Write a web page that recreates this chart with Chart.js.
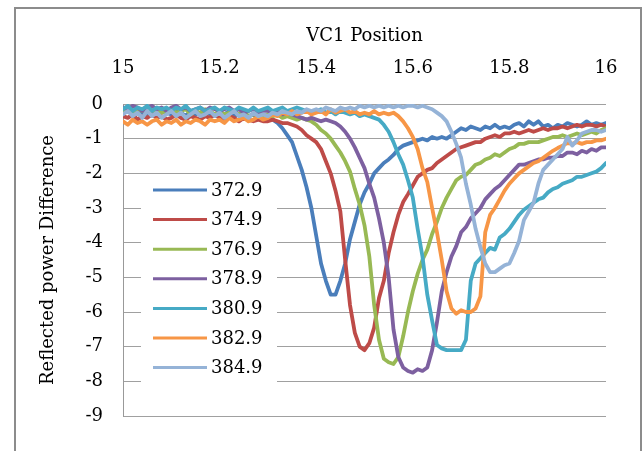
<!DOCTYPE html>
<html>
<head>
<meta charset="utf-8">
<script src="https://cdn.jsdelivr.net/npm/chart.js@4/dist/chart.umd.min.js"></script>
<style>
  body { margin: 0; background: #fff; }
  canvas { display: block; }
</style>
</head>
<body>
<canvas id="chart" width="643" height="451"></canvas>
<script>
// VC1 position (x axis), one sample every 0.01
const positions = [
  15.00, 15.01, 15.02, 15.03, 15.04, 15.05, 15.06, 15.07, 15.08, 15.09,
  15.10, 15.11, 15.12, 15.13, 15.14, 15.15, 15.16, 15.17, 15.18, 15.19,
  15.20, 15.21, 15.22, 15.23, 15.24, 15.25, 15.26, 15.27, 15.28, 15.29,
  15.30, 15.31, 15.32, 15.33, 15.34, 15.35, 15.36, 15.37, 15.38, 15.39,
  15.40, 15.41, 15.42, 15.43, 15.44, 15.45, 15.46, 15.47, 15.48, 15.49,
  15.50, 15.51, 15.52, 15.53, 15.54, 15.55, 15.56, 15.57, 15.58, 15.59,
  15.60, 15.61, 15.62, 15.63, 15.64, 15.65, 15.66, 15.67, 15.68, 15.69,
  15.70, 15.71, 15.72, 15.73, 15.74, 15.75, 15.76, 15.77, 15.78, 15.79,
  15.80, 15.81, 15.82, 15.83, 15.84, 15.85, 15.86, 15.87, 15.88, 15.89,
  15.90, 15.91, 15.92, 15.93, 15.94, 15.95, 15.96, 15.97, 15.98, 15.99, 16.00
];

const seriesNames = ['372.9', '374.9', '376.9', '378.9', '380.9', '382.9', '384.9'];

const s3729 = [
  -0.25, -0.2, -0.3, -0.15, -0.25, -0.35, -0.2, -0.3, -0.2, -0.25,
  -0.3, -0.2, -0.25, -0.35, -0.2, -0.3, -0.25, -0.2, -0.3, -0.35,
  -0.25, -0.3, -0.2, -0.35, -0.3, -0.25, -0.35, -0.3, -0.4, -0.35,
  -0.4, -0.45, -0.55, -0.7, -0.9, -1.1, -1.5, -1.9, -2.4, -3.0,
  -3.8, -4.6, -5.1, -5.5, -5.5, -5.1, -4.6, -3.9, -3.4, -2.9,
  -2.55, -2.3, -2.0, -1.85, -1.7, -1.6, -1.47, -1.3, -1.2, -1.15,
  -1.1, -1.05, -1.0, -1.05, -0.95, -1.0, -0.95, -1.0, -0.9, -0.8,
  -0.7, -0.75, -0.65, -0.7, -0.75, -0.65, -0.7, -0.6, -0.7, -0.65,
  -0.7, -0.6, -0.55, -0.65, -0.5, -0.6, -0.5, -0.65, -0.6, -0.7,
  -0.6, -0.65, -0.55, -0.6, -0.65, -0.6, -0.5, -0.6, -0.55, -0.6, -0.55
];
const s3749 = [
  -0.35, -0.4, -0.3, -0.45, -0.35, -0.4, -0.3, -0.4, -0.35, -0.45,
  -0.4, -0.3, -0.4, -0.45, -0.35, -0.4, -0.45, -0.35, -0.4, -0.3,
  -0.4, -0.45, -0.35, -0.4, -0.5, -0.4, -0.45, -0.5, -0.45, -0.5,
  -0.5, -0.45, -0.5, -0.55, -0.55, -0.6, -0.65, -0.75, -0.9, -1.0,
  -1.1, -1.3, -1.65, -2.0, -2.5, -3.1, -4.5, -5.8, -6.6, -7.0,
  -7.1, -6.9, -6.45, -5.6, -5.1, -4.3, -3.7, -3.2, -2.83, -2.6,
  -2.35, -2.1, -2.0, -1.9, -1.85, -1.7, -1.6, -1.5, -1.4, -1.3,
  -1.25, -1.2, -1.15, -1.1, -1.1, -1.0, -0.95, -0.9, -0.95, -0.85,
  -0.85, -0.8, -0.85, -0.8, -0.75, -0.8, -0.75, -0.7, -0.75, -0.7,
  -0.7, -0.65, -0.7, -0.65, -0.6, -0.65, -0.6, -0.6, -0.65, -0.6, -0.65
];
const s3769 = [
  -0.2, -0.1, -0.25, -0.15, -0.2, -0.1, -0.2, -0.15, -0.25, -0.2,
  -0.15, -0.25, -0.2, -0.15, -0.3, -0.2, -0.25, -0.15, -0.2, -0.3,
  -0.2, -0.3, -0.25, -0.2, -0.3, -0.25, -0.35, -0.3, -0.25, -0.35,
  -0.3, -0.35, -0.3, -0.4, -0.35, -0.4, -0.45, -0.4, -0.45, -0.5,
  -0.6, -0.75, -0.85, -1.0, -1.2, -1.4, -1.65, -1.95, -2.45, -2.9,
  -3.5, -4.4, -5.8, -6.8, -7.35, -7.45, -7.5, -7.3, -6.7, -6.0,
  -5.4, -4.9, -4.5, -4.2, -3.75, -3.4, -3.0, -2.7, -2.45, -2.2,
  -2.1, -2.05, -1.9, -1.75, -1.7, -1.6, -1.55, -1.45, -1.5, -1.4,
  -1.3, -1.25, -1.15, -1.15, -1.1, -1.1, -1.1, -1.05, -1.0, -0.95,
  -0.95, -0.9, -0.95, -0.9, -0.85, -0.9, -0.85, -0.8, -0.85, -0.75, -0.7
];
const s3789 = [
  -0.1, -0.15, -0.05, -0.1, -0.2, -0.1, -0.05, -0.15, -0.1, -0.2,
  -0.1, -0.05, -0.15, -0.1, -0.2, -0.15, -0.1, -0.2, -0.1, -0.15,
  -0.2, -0.15, -0.1, -0.2, -0.15, -0.25, -0.2, -0.15, -0.25, -0.2,
  -0.2, -0.25, -0.2, -0.3, -0.25, -0.3, -0.35, -0.4, -0.45, -0.4,
  -0.45, -0.5, -0.45, -0.5, -0.55, -0.65, -0.8, -1.0, -1.25, -1.55,
  -1.85, -2.3, -2.7, -3.3, -4.0, -5.0, -6.5, -7.3, -7.6, -7.7,
  -7.75, -7.65, -7.7, -7.6, -7.1, -6.3, -5.4, -4.85, -4.4, -4.1,
  -3.7, -3.55, -3.3, -3.15, -3.0, -2.75, -2.6, -2.45, -2.35, -2.2,
  -2.05, -1.9, -1.75, -1.75, -1.7, -1.65, -1.6, -1.6, -1.55, -1.55,
  -1.5, -1.5, -1.4, -1.4, -1.45, -1.35, -1.4, -1.3, -1.35, -1.25, -1.25
];
const s3809 = [
  -0.15, -0.05, -0.2, -0.1, -0.15, -0.05, -0.2, -0.1, -0.15, -0.1,
  -0.2, -0.1, -0.15, -0.05, -0.2, -0.15, -0.1, -0.2, -0.15, -0.1,
  -0.2, -0.1, -0.15, -0.2, -0.1, -0.15, -0.2, -0.1, -0.2, -0.15,
  -0.1, -0.2, -0.15, -0.1, -0.2, -0.15, -0.1, -0.15, -0.2, -0.25,
  -0.2, -0.15, -0.25, -0.2, -0.3, -0.2, -0.25, -0.3, -0.25, -0.35,
  -0.3, -0.35, -0.4, -0.45, -0.6, -0.8, -1.1, -1.45, -1.75, -2.2,
  -2.7, -3.6, -4.4, -5.5, -6.25, -6.95, -7.05, -7.1, -7.1, -7.1,
  -7.1, -6.8, -5.1, -4.6, -4.45, -4.3, -4.15, -4.2, -3.85, -3.75,
  -3.6, -3.4, -3.2, -3.05, -2.95, -2.85, -2.75, -2.7, -2.55, -2.45,
  -2.4, -2.3, -2.25, -2.2, -2.1, -2.1, -2.05, -2.0, -1.95, -1.85, -1.7
];
const s3829 = [
  -0.5, -0.6, -0.45, -0.55, -0.5, -0.6, -0.5, -0.45, -0.6, -0.5,
  -0.55, -0.45, -0.6, -0.5, -0.55, -0.45, -0.5, -0.6, -0.45, -0.5,
  -0.45, -0.55, -0.4, -0.5, -0.45, -0.4, -0.5, -0.45, -0.35, -0.45,
  -0.4, -0.3, -0.35, -0.25, -0.3, -0.2, -0.3, -0.25, -0.2, -0.3,
  -0.25, -0.2, -0.3, -0.15, -0.25, -0.2, -0.15, -0.25, -0.2, -0.3,
  -0.25, -0.3, -0.2, -0.3, -0.25, -0.3, -0.25, -0.35, -0.5, -0.7,
  -0.95, -1.3, -1.85, -2.25, -3.0, -3.7, -4.5, -5.4, -5.9, -6.05,
  -5.95, -6.0, -6.0, -5.9, -5.55, -3.7, -3.2, -3.0, -2.75, -2.5,
  -2.3, -2.15, -2.0, -1.9, -1.8, -1.7, -1.65, -1.55, -1.45, -1.35,
  -1.27, -1.2, -1.13, -1.15, -1.1, -1.15, -1.1, -1.1, -1.05, -1.05, -1.0
];
const s3849 = [
  -0.3, -0.2, -0.35, -0.25, -0.4, -0.2, -0.35, -0.25, -0.4, -0.3,
  -0.2, -0.35, -0.25, -0.4, -0.3, -0.2, -0.35, -0.3, -0.2, -0.35,
  -0.25, -0.4, -0.3, -0.2, -0.35, -0.3, -0.4, -0.25, -0.35, -0.3,
  -0.35, -0.25, -0.3, -0.2, -0.25, -0.3, -0.2, -0.25, -0.15, -0.2,
  -0.15, -0.2, -0.1, -0.15, -0.2, -0.1, -0.15, -0.1, -0.15, -0.05,
  -0.1, -0.05, -0.1, -0.05, -0.1, -0.05, -0.1, -0.05, -0.1, -0.05,
  -0.05, -0.1, -0.05, -0.1, -0.15, -0.25, -0.35, -0.5, -0.8, -1.15,
  -1.55, -2.3, -2.9, -3.6, -4.13, -4.6, -4.85, -4.85, -4.75, -4.65,
  -4.6, -4.3, -3.95, -3.35, -3.1, -2.85, -2.3, -1.9, -1.75, -1.6,
  -1.45, -1.3, -0.95, -1.2, -1.05, -0.85, -0.8, -0.75, -0.75, -0.8, -0.75
];

const seriesValues = [s3729, s3749, s3769, s3789, s3809, s3829, s3849];
const colors = ['#4A7EBB', '#BE4B48', '#98B954', '#7D60A0', '#46AAC5', '#F79646', '#95B3D7'];

const xTicks = { min: 15, max: 16, step: 0.2 };
const yTicks = { min: -9, max: 0, step: 1 };

const serif = 'DejaVu Serif';

// white page with the grey chart frame
const framePlugin = {
    id: 'frame',
    beforeDraw(chart) {
        const ctx = chart.ctx;
        ctx.save();
        ctx.fillStyle = '#fff';
        ctx.fillRect(0, 0, chart.width, chart.height);
        ctx.strokeStyle = '#8c8c8c';
        ctx.lineWidth = 2;
        ctx.strokeRect(15, 8, 626, 470);
        ctx.restore();
    }
};

// legend drawn inside the plot, on a white box over the gridlines
const insideLegend = {
    id: 'insideLegend',
    afterDatasetsDraw(chart) {
        const ctx = chart.ctx;
        const sets = chart.data.datasets;
        ctx.save();
        ctx.fillStyle = '#fff';
        ctx.fillRect(141, 176, 136, 208);
        ctx.font = '18px "' + serif + '"';
        ctx.textBaseline = 'middle';
        ctx.textAlign = 'left';
        sets.forEach((ds, i) => {
            const y = 190 + i * 29.6;
            ctx.strokeStyle = ds.borderColor;
            ctx.lineWidth = 3;
            ctx.beginPath();
            ctx.moveTo(153, y);
            ctx.lineTo(207, y);
            ctx.stroke();
            ctx.fillStyle = '#000';
            ctx.fillText(ds.label, 211, y + 1);
        });
        ctx.restore();
    }
};

const ctx = document.getElementById('chart').getContext('2d');
new Chart(ctx, {
    type: 'line',
    data: {
        datasets: seriesNames.map((name, i) => ({
            label: name,
            data: positions.map((x, j) => ({ x: x, y: seriesValues[i][j] })),
            borderColor: colors[i],
            backgroundColor: colors[i],
            borderWidth: 3.8,
            borderJoinStyle: 'round',
            borderCapStyle: 'round',
            pointRadius: 0,
            tension: 0,
            order: seriesNames.length - 1 - i
        }))
    },
    options: {
        responsive: false,
        animation: false,
        layout: { padding: { left: 0, top: 0, right: 37, bottom: 35 } },
        plugins: {
            legend: { display: false },
            tooltip: { enabled: false }
        },
        scales: {
            x: {
                type: 'linear',
                position: 'top',
                min: xTicks.min,
                max: xTicks.max,
                afterFit: (scale) => { scale.height = 104; },
                ticks: {
                    stepSize: xTicks.step,
                    padding: 25,
                    maxRotation: 0,
                    color: '#000',
                    font: { family: serif, size: 18 },
                    callback: (v) => String(Math.round(v * 10) / 10)
                },
                grid: { display: false, drawTicks: false },
                border: { display: false },
                title: {
                    display: true,
                    text: 'VC1 Position',
                    color: '#000',
                    font: { family: serif, size: 18 },
                    padding: { top: 26, bottom: 0 }
                }
            },
            y: {
                min: yTicks.min,
                max: yTicks.max,
                afterFit: (scale) => { scale.width = 123; },
                ticks: {
                    stepSize: yTicks.step,
                    padding: 20,
                    color: '#000',
                    font: { family: serif, size: 18 }
                },
                grid: { color: '#a0a0a0', lineWidth: 1, drawTicks: false },
                border: { display: true, color: '#999', width: 1 },
                title: {
                    display: true,
                    text: 'Reflected power Difference',
                    color: '#000',
                    font: { family: serif, size: 18 },
                    padding: { top: 38, bottom: 0 }
                }
            }
        }
    },
    plugins: [framePlugin, insideLegend]
});
</script>
</body>
</html>
